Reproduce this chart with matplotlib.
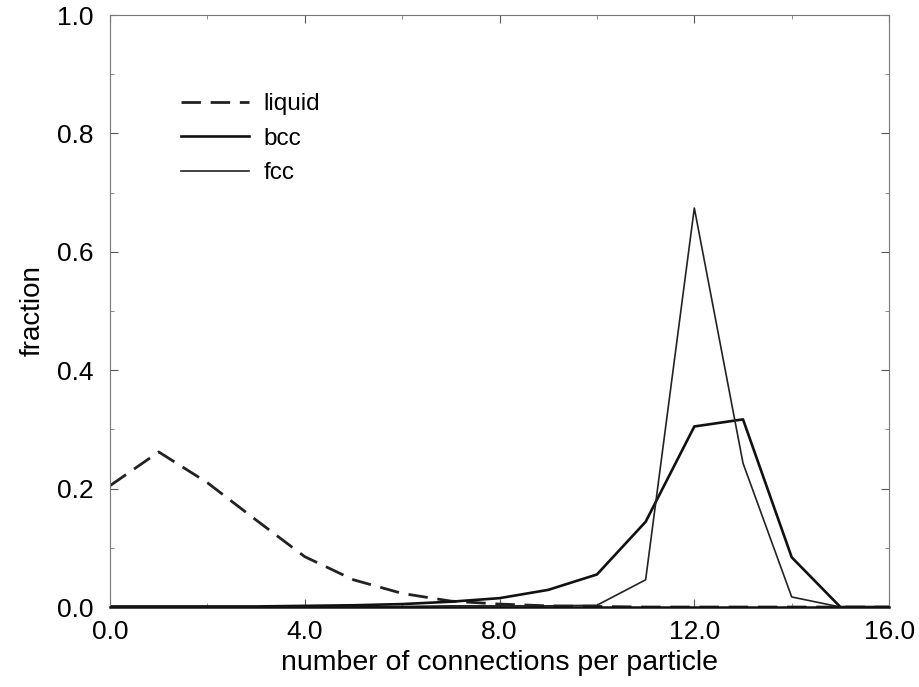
import matplotlib
matplotlib.use("Agg")
import matplotlib.pyplot as plt
from matplotlib.ticker import MultipleLocator, FormatStrFormatter

plt.rcParams['font.family'] = ['Liberation Sans', 'DejaVu Sans']

x = list(range(0, 17))
liquid = [0.205, 0.262, 0.210, 0.147, 0.085, 0.046, 0.023, 0.010, 0.005, 0.002, 0.001, 0.0, 0.0, 0.0, 0.0, 0.0, 0.0]
bcc = [0.001, 0.001, 0.001, 0.001, 0.002, 0.003, 0.005, 0.009, 0.015, 0.029, 0.055, 0.144, 0.305, 0.317, 0.084, 0.0, 0.0]
fcc = [0.0, 0.0, 0.0, 0.0, 0.0, 0.0, 0.001, 0.002, 0.002, 0.002, 0.003, 0.046, 0.674, 0.243, 0.017, 0.0, 0.0]

fig = plt.figure(figsize=(9.2, 6.87), dpi=100)
ax = fig.add_axes([0.1196, 0.1164, 0.8468, 0.8617])

ax.plot(x, liquid, color='#222222', lw=2.0, dashes=(7, 3.5), label='liquid')
ax.plot(x, bcc, color='#111111', lw=1.9, label='bcc')
ax.plot(x, fcc, color='#222222', lw=1.2, label='fcc')

ax.set_xlim(0, 16)
ax.set_ylim(0, 1.0)
ax.xaxis.set_major_locator(MultipleLocator(4))
ax.xaxis.set_minor_locator(MultipleLocator(2))
ax.yaxis.set_major_locator(MultipleLocator(0.2))
ax.yaxis.set_minor_locator(MultipleLocator(0.1))
ax.xaxis.set_major_formatter(FormatStrFormatter('%.1f'))
ax.yaxis.set_major_formatter(FormatStrFormatter('%.1f'))
ax.tick_params(which='both', direction='in', top=True, right=True, labelsize=19)
ax.tick_params(axis='x', which='major', pad=9)
ax.tick_params(axis='y', which='major', pad=12)
ax.tick_params(which='major', length=6, width=0.8, color='#555555')
ax.tick_params(which='minor', length=3, width=0.6, color='#777777')

for side in ['left', 'right', 'top']:
    ax.spines[side].set_color('#777777')
    ax.spines[side].set_linewidth(0.8)
ax.spines['bottom'].set_color('#111111')
ax.spines['bottom'].set_linewidth(1.8)

ax.set_xlabel('number of connections per particle', fontsize=20.5, labelpad=5)
ax.set_ylabel('fraction', fontsize=20, labelpad=8)

leg = ax.legend(loc='upper left', bbox_to_anchor=(0.063, 0.905), frameon=False,
                fontsize=17.5, handlelength=2.8, handletextpad=0.6, labelspacing=0.52)

fig.savefig('out.png', dpi=100)
